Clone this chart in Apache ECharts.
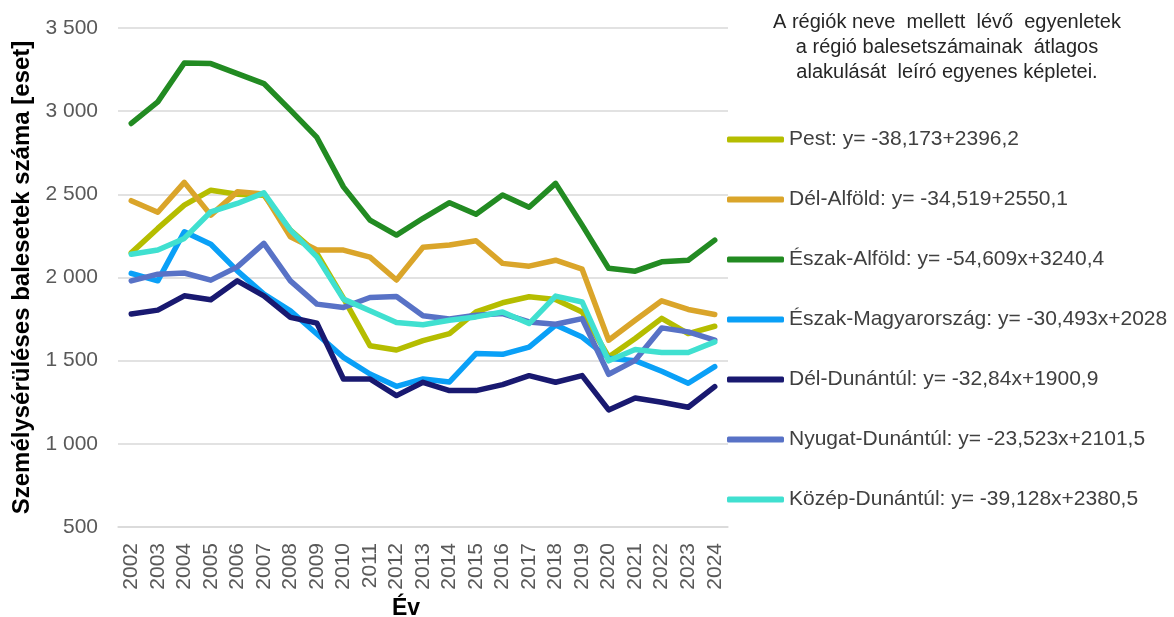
<!DOCTYPE html>
<html lang="hu">
<head>
    <meta charset="UTF-8">
    <title>Személysérüléses balesetek régiónként</title>
    <script src="https://cdn.jsdelivr.net/npm/echarts@6/dist/echarts.min.js"></script>
    <style>
        html, body { margin: 0; padding: 0; background: #fff; }
    </style>
</head>
<body>
<div id="main" style="width: 1174px;height:617px;"></div>

<script type="text/javascript">
    // évek (x tengely)
    var years = ['2002', '2003', '2004', '2005', '2006', '2007', '2008', '2009', '2010', '2011', '2012',
        '2013', '2014', '2015', '2016', '2017', '2018', '2019', '2020', '2021', '2022', '2023', '2024'];

    // régiók adatai, leolvasva
    var pest = [2148, 2295, 2435, 2525, 2500, 2495, 2285, 2145, 1876, 1590, 1564, 1620, 1663, 1793, 1848, 1884, 1868, 1793, 1522, 1633, 1754, 1663, 1707];
    var delAlfold = [2462, 2392, 2572, 2375, 2515, 2502, 2245, 2165, 2165, 2122, 1985, 2182, 2195, 2221, 2085, 2068, 2104, 2050, 1623, 1743, 1860, 1808, 1778];
    var eszakAlfold = [2926, 3056, 3290, 3286, 3226, 3166, 3006, 2842, 2545, 2345, 2255, 2356, 2450, 2380, 2496, 2422, 2566, 2315, 2055, 2038, 2094, 2104, 2225];
    var eszakMagyar = [2025, 1980, 2275, 2200, 2040, 1900, 1800, 1660, 1520, 1420, 1346, 1390, 1372, 1543, 1538, 1582, 1714, 1642, 1515, 1500, 1436, 1364, 1464];
    var delDunantul = [1780, 1804, 1890, 1866, 1980, 1890, 1760, 1726, 1390, 1390, 1290, 1370, 1320, 1320, 1356, 1410, 1370, 1410, 1204, 1276, 1250, 1220, 1344];
    var nyugatDunantul = [1980, 2020, 2027, 1984, 2064, 2205, 1980, 1840, 1820, 1880, 1886, 1770, 1750, 1773, 1783, 1733, 1719, 1753, 1418, 1502, 1697, 1673, 1623];
    var kozepDunantul = [2140, 2165, 2235, 2395, 2445, 2509, 2285, 2124, 1870, 1800, 1730, 1716, 1743, 1763, 1793, 1723, 1888, 1853, 1499, 1567, 1549, 1549, 1613];

    var regions = ['Pest', 'Dél-Alföld', 'Észak-Alföld', 'Észak-Magyarország', 'Dél-Dunántúl', 'Nyugat-Dunántúl', 'Közép-Dunántúl'];
    var equations = ['y= -38,173+2396,2', 'y= -34,519+2550,1', 'y= -54,609x+3240,4', 'y= -30,493x+2028',
        'y= -32,84x+1900,9', 'y= -23,523x+2101,5', 'y= -39,128x+2380,5'];
    var colors = ['#b5bd00', '#daa52a', '#228b22', '#0aa0f7', '#191970', '#5872c6', '#40e0d0'];
    var values = [pest, delAlfold, eszakAlfold, eszakMagyar, delDunantul, nyugatDunantul, kozepDunantul];

    var yTicks = [500, 1000, 1500, 2000, 2500, 3000, 3500];

    var font = 'Liberation Sans, Arial, sans-serif';

    var series = [];
    for (var i = 0; i < regions.length; i++) {
        series.push({
            name: regions[i],
            type: 'line',
            data: values[i],
            symbol: 'none',
            color: colors[i],
            lineStyle: {width: 5.5, cap: 'round', join: 'round'}
        });
    }

    var myChart = echarts.init(document.getElementById('main'));
    var option = {
        animation: false,
        title: {
            text: 'A régiók neve  mellett  lévő  egyenletek\na régió balesetszámainak  átlagos\nalakulását  leíró egyenes képletei.',
            left: 942,
            top: 5,
            textAlign: 'center',
            textStyle: {fontFamily: font, fontSize: 20, fontWeight: 'normal', lineHeight: 25, color: '#262626'}
        },
        legend: {
            orient: 'vertical',
            left: 722,
            top: 124,
            itemWidth: 57,
            itemHeight: 6,
            itemGap: 39,
            itemTextGap: 4,
            icon: 'roundRect',
            data: regions,
            formatter: function (name) {
                return name + ': ' + equations[regions.indexOf(name)];
            },
            textStyle: {fontFamily: font, fontSize: 21, color: '#404040'}
        },
        grid: {left: 118, right: 446, top: 28, bottom: 90, containLabel: false, outerBoundsMode: 'none'},
        xAxis: {
            type: 'category',
            data: years,
            boundaryGap: true,
            name: 'Év',
            nameLocation: 'middle',
            nameGap: 62,
            nameTextStyle: {fontFamily: font, fontSize: 23, fontWeight: 'bold', color: '#000', padding: [0, 34, 0, 0]},
            axisLine: {lineStyle: {color: '#d9d9d9', width: 1.5}},
            axisTick: {show: false},
            axisLabel: {interval: 0, rotate: 90, margin: 16, fontFamily: font, fontSize: 21, color: '#595959'}
        },
        yAxis: {
            type: 'value',
            min: yTicks[0],
            max: yTicks[yTicks.length - 1],
            interval: 500,
            name: 'Személysérüléses balesetek száma [eset]',
            nameLocation: 'middle',
            nameGap: 75,
            nameTextStyle: {fontFamily: font, fontSize: 24, fontWeight: 'bold', color: '#000'},
            axisLine: {show: false},
            axisTick: {show: false},
            splitLine: {lineStyle: {color: '#d9d9d9', width: 1.5}},
            axisLabel: {
                margin: 20,
                fontFamily: font,
                fontSize: 21,
                color: '#595959',
                formatter: function (v) {
                    return String(v).replace(/\B(?=(\d{3})+(?!\d))/g, ' ');
                }
            }
        },
        series: series
    };

    myChart.setOption(option);
</script>
</body>
</html>
